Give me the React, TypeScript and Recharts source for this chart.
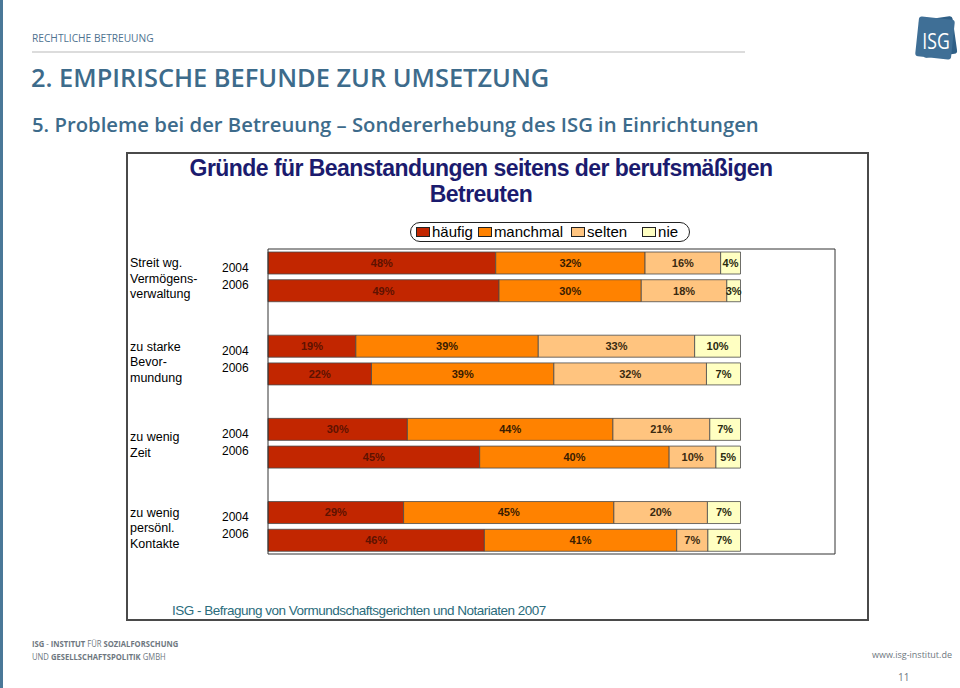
import React from "react";
import { BarChart, Bar, XAxis, YAxis, LabelList, ReferenceLine } from "recharts";

// Kategorien (Zeilenumbrüche wie im Original)
const groupLines = [
  ["Streit wg.", "Vermögens-", "verwaltung"],
  ["zu starke", "Bevor-", "mundung"],
  ["zu wenig", "Zeit"],
  ["zu wenig", "persönl.", "Kontakte"],
];
const years = ["2004", "2006"];

// Anteile je Kategorie x Jahr (2004, 2006, 2004, 2006, ...), in %
const haeufig = [48.2, 48.9, 18.6, 21.9, 29.5, 44.8, 28.7, 45.8];
const manchmal = [31.6, 30.1, 38.6, 38.6, 43.5, 40.1, 44.5, 40.7];
const selten = [16.0, 18.1, 33.1, 32.3, 20.5, 9.9, 19.8, 6.6];
const nie = [4.2, 2.9, 9.7, 7.2, 6.5, 5.2, 7.0, 6.9];

const seriesKeys = ["haeufig", "manchmal", "selten", "nie"];
const seriesNames = ["häufig", "manchmal", "selten", "nie"];
const seriesColors = ["#c22600", "#ff8200", "#ffc47f", "#ffffc2"];
const labelColors = ["#5e1200", "#3a1c00", "#3a2a10", "#2a2a10"];

const xMax = 120;

type Row = {
  row: string;
  group: number;
  year: string;
  haeufig?: number | null;
  manchmal?: number | null;
  selten?: number | null;
  nie?: number | null;
};

const rows: Row[] = [];
groupLines.forEach((_, g) => {
  years.forEach((year, y) => {
    const i = g * years.length + y;
    rows.push({
      row: `${g}-${year}`,
      group: g,
      year,
      haeufig: haeufig[i],
      manchmal: manchmal[i],
      selten: selten[i],
      nie: nie[i],
    });
  });
  if (g < groupLines.length - 1) {
    rows.push({ row: `gap-${g}`, group: g, year: "", haeufig: null, manchmal: null, selten: null, nie: null });
  }
});
const rowByKey: Record<string, Row> = {};
rows.forEach((r) => (rowByKey[r.row] = r));

const axisFont = "'Liberation Sans', Arial, sans-serif";

function CategoryTick(props: any) {
  const { y, payload } = props;
  const r = rowByKey[payload?.value];
  if (!r || !r.year) return null;
  const first = r.year === years[0];
  const lines = groupLines[r.group];
  const center = y + 16;
  return (
    <g>
      <text x={96} y={y + (first ? 5 : -6)} dominantBaseline="central" fontSize={12} fontFamily={axisFont} fill="#000">
        {r.year}
      </text>
      {first &&
        lines.map((t, i) => (
          <text
            key={t}
            x={4}
            y={center + (i - (lines.length - 1) / 2) * 15.5}
            dominantBaseline="central"
            fontSize={12.5}
            fontFamily={axisFont}
            fill="#000"
          >
            {t}
          </text>
        ))}
    </g>
  );
}

const pct = (v: any) => (v == null || Number.isNaN(Number(v)) ? "" : `${Math.round(Number(v))}%`);

function Logo() {
  return (
    <svg width={48} height={52} style={{ position: "absolute", left: 912, top: 12 }}>
      <rect x={9} y={6} width={34} height={38} rx={3} fill="#2f5f86" transform="rotate(-8 26 25)" />
      <rect x={5} y={6} width={36} height={40} rx={3} fill="#3f6f96" transform="rotate(6 23 26)" />
      <text x={24} y={37} textAnchor="middle" fontSize={22} fontFamily="'Open Sans', sans-serif" fill="#fff" transform="scale(0.8 1) translate(6 0)">
        ISG
      </text>
    </svg>
  );
}

export default function App() {
  const blue = "#3d6b8b";
  return (
    <div style={{ position: "relative", width: 960, height: 688, background: "#fff", overflow: "hidden" }}>
      <style>{`body{margin:0}`}</style>
      <div style={{ position: "absolute", left: 0, top: 0, width: 3, height: 688, background: "#4a7898" }} />

      <div style={{ position: "absolute", left: 32, top: 31, fontFamily: "'Open Sans', sans-serif", fontSize: 10.2, color: "#4f7390", whiteSpace: "nowrap" }}>
        RECHTLICHE BETREUUNG
      </div>
      <div style={{ position: "absolute", left: 32, top: 51, width: 713, height: 2, background: "#dcdcdc" }} />
      <div style={{ position: "absolute", left: 31, top: 60, fontFamily: "'Open Sans', sans-serif", fontWeight: 600, fontSize: 25.4, color: blue, whiteSpace: "nowrap" }}>
        2. EMPIRISCHE BEFUNDE ZUR UMSETZUNG
      </div>
      <div style={{ position: "absolute", left: 32, top: 110, fontFamily: "'Open Sans', sans-serif", fontWeight: 600, fontSize: 20.3, color: blue, whiteSpace: "nowrap" }}>
        5. Probleme bei der Betreuung – Sondererhebung des ISG in Einrichtungen
      </div>
      <Logo />

      {/* Diagrammrahmen */}
      <div style={{ position: "absolute", left: 126, top: 152, width: 743, height: 469, border: "2px solid #4a4a4a", boxSizing: "border-box" }} />
      <div style={{ position: "absolute", left: 126, top: 155, width: 710, textAlign: "center", fontFamily: axisFont, fontWeight: "bold", fontSize: 23, lineHeight: "26px", color: "#1b1b6e", letterSpacing: -0.55 }}>
        Gründe für Beanstandungen seitens der berufsmäßigen
        <br />
        Betreuten
      </div>

      <div
        style={{
          position: "absolute",
          left: 410,
          top: 222,
          width: 280,
          height: 20,
          border: "1.5px solid #222",
          borderRadius: 10,
          boxSizing: "border-box",
          display: "flex",
          alignItems: "center",
          paddingLeft: 5,
          fontFamily: axisFont,
          fontSize: 15,
          color: "#000",
        }}
      >
        {seriesNames.map((n, i) => (
          <div key={n} style={{ display: "flex", alignItems: "center", marginRight: i === 2 ? 15 : i === 1 ? 8 : 5 }}>
            <span style={{ display: "inline-block", width: 12, height: 8, background: seriesColors[i], border: "1px solid #222", marginRight: 2 }} />
            <span style={{ lineHeight: "16px" }}>{n}</span>
          </div>
        ))}
      </div>

      <div style={{ position: "absolute", left: 126, top: 152 }}>
        <BarChart
          width={743}
          height={469}
          data={rows}
          layout="vertical"
          margin={{ top: 97, right: 34, bottom: 67, left: 0 }}
          barSize={22}
        >
          <XAxis type="number" domain={[0, xMax]} hide />
          <YAxis type="category" dataKey="row" width={142} interval={0} tick={<CategoryTick />} tickLine={false} axisLine={{ stroke: "#333" }} />
          {/* Rahmen der Zeichenfläche */}
          <ReferenceLine y={rows[0].row} position="start" stroke="#333" />
          <ReferenceLine y={rows[rows.length - 1].row} position="end" stroke="#333" />
          <ReferenceLine x={xMax} stroke="#333" />
          {seriesKeys.map((k, i) => (
            <Bar key={k} dataKey={k} name={seriesNames[i]} stackId="s" fill={seriesColors[i]} stroke="#4a4a4a" strokeWidth={0.8} isAnimationActive={false}>
              <LabelList dataKey={k} position="center" formatter={pct} fill={labelColors[i]} fontSize={11} fontWeight="bold" fontFamily={axisFont} />
            </Bar>
          ))}
        </BarChart>
      </div>

      <div style={{ position: "absolute", left: 172, top: 603, fontFamily: axisFont, fontSize: 13.5, color: "#2b6c7c", letterSpacing: -0.5, whiteSpace: "nowrap" }}>
        ISG - Befragung von Vormundschaftsgerichten und Notariaten 2007
      </div>

      <div style={{ position: "absolute", left: 32, top: 637, fontFamily: "'Open Sans', sans-serif", fontSize: 8.5, lineHeight: "13px", color: "#6e7780", transform: "scaleX(0.9)", transformOrigin: "left", whiteSpace: "nowrap" }}>
        <b>ISG</b> - <b>INSTITUT</b> FÜR <b>SOZIALFORSCHUNG</b>
        <br />
        UND <b>GESELLSCHAFTSPOLITIK</b> GMBH
      </div>
      <div style={{ position: "absolute", right: 8, top: 648, fontFamily: "'Open Sans', sans-serif", fontSize: 9, color: "#6e7780" }}>www.isg-institut.de</div>
      <div style={{ position: "absolute", left: 898, top: 670, fontFamily: "'Open Sans', sans-serif", fontSize: 10, color: "#6e7780" }}>11</div>
    </div>
  );
}
